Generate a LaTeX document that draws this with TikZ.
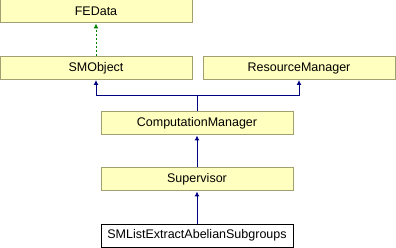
\documentclass[tikz,border=0pt]{standalone}
\usepackage{fontspec}
\setmainfont{Liberation Sans}
\usetikzlibrary{arrows.meta}
\definecolor{classfill}{HTML}{FFFFC0}
\definecolor{classline}{HTML}{A0A070}
\definecolor{inheritline}{HTML}{000080}
\definecolor{usesline}{HTML}{008000}
\begin{document}
\begin{tikzpicture}[x=1pt, y=-1pt,
    every node/.style = {shape=rectangle, draw=classline, fill=classfill,
    line width=1pt, minimum width=192pt, minimum height=23pt, inner sep=0pt,
    font=\fontsize{12.5}{14}\selectfont},
    current/.style = {draw=black, fill=white},
    base/.style = {draw=inheritline, line width=1pt, -{Latex[length=5pt,width=5pt]}},
    uses/.style = {draw=usesline, line width=1pt, dash pattern=on 2pt off 2pt,
    -{Latex[length=5pt,width=5pt]}},
    ]
  \useasboundingbox (0,0) rectangle (396,248);

  % class boxes
  \node (fedata)   at (96,11.5)   {FEData};
  \node (smobject) at (96,68)     {SMObject};
  \node (resmgr)   at (299,68)    {ResourceManager};
  \node (compmgr)  at (197,123.5) {ComputationManager};
  \node (superv)   at (197,179.5) {Supervisor};
  \node[current] (smlist) at (197,235.5) {SMListExtractAbelianSubgroups};

  % inheritance
  \draw[uses] (smobject.north) -- (fedata.south);
  \coordinate (fork) at (197,96);
  \draw[base] (compmgr.north) -- (fork) -| (smobject.south);
  \draw[base] (fork) -| (resmgr.south);
  \draw[base] (superv.north) -- (compmgr.south);
  \draw[base] (smlist.north) -- (superv.south);
\end{tikzpicture}
\end{document}
